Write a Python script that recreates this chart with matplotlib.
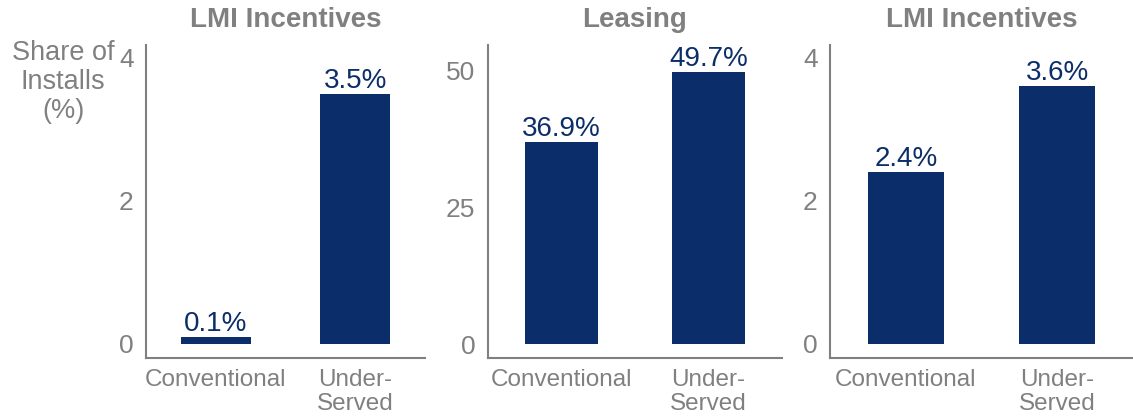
import matplotlib
matplotlib.use('Agg')
import matplotlib.pyplot as plt

plt.rcParams['font.family'] = ['Liberation Sans', 'DejaVu Sans']

categories = ['Conventional', 'Under-\nServed']
titles = ['LMI Incentives', 'Leasing', 'LMI Incentives']
values = [[0.1, 3.5], [36.9, 49.7], [2.4, 3.6]]
yticks = [[0, 2, 4], [0, 25, 50], [0, 2, 4]]
ylims = [(-0.2, 4.18), (-2.55, 54.6), (-0.2, 4.18)]

bar_color = '#0b2d69'
gray = '#808080'

fig = plt.figure(figsize=(11.33, 4.17), dpi=100)
boxes = [[0.1289, 0.1415, 0.2462, 0.7506],
         [0.4307, 0.1415, 0.2595, 0.7506],
         [0.7326, 0.1415, 0.2674, 0.7506]]

for i in range(3):
    ax = fig.add_axes(boxes[i])
    x = range(len(categories))
    bars = ax.bar(x, values[i], width=0.5, color=bar_color)
    for b, v in zip(bars, values[i]):
        ax.text(b.get_x() + b.get_width() / 2, v, f"{v:.1f}%", ha='center', va='bottom',
                fontsize=20, color=bar_color)
    ax.set_xlim(-0.5, 1.5)
    ax.set_ylim(*ylims[i])
    ax.set_xticks(list(x))
    ax.set_xticklabels(categories, fontsize=17.5, color=gray, linespacing=1.1)
    ax.set_yticks(yticks[i])
    ax.set_yticklabels([str(t) for t in yticks[i]], fontsize=19, color=gray)
    ax.tick_params(axis='both', length=0)
    ax.tick_params(axis='x', pad=8)
    ax.tick_params(axis='y', pad=9)
    for s in ['top', 'right']:
        ax.spines[s].set_visible(False)
    for s in ['left', 'bottom']:
        ax.spines[s].set_color(gray)
        ax.spines[s].set_linewidth(1.5)
    ax.set_title(titles[i], fontsize=20, fontweight='bold', color=gray, pad=13)

fig.text(63 / 1133, 1 - 40 / 417, 'Share of\nInstalls\n(%)', ha='center', va='top',
         fontsize=19.5, color=gray, linespacing=1.15)

fig.savefig('out.png', dpi=100)
